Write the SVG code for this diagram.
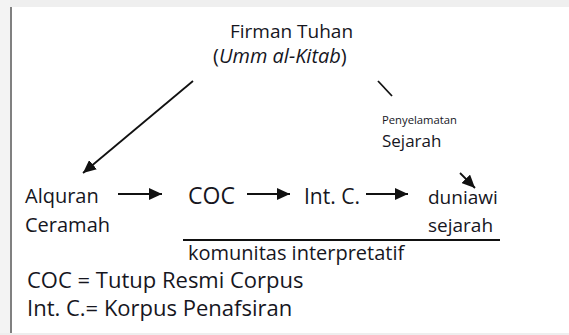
<svg xmlns="http://www.w3.org/2000/svg" width="569" height="335" viewBox="0 0 569 335">
<style>
.t{font-family:"Open Sans","Noto Sans",sans-serif;fill:#16161e}
.c line{stroke:#111;stroke-width:1.8;fill:none}
</style>
<defs>
<marker id="ah" markerUnits="userSpaceOnUse" markerWidth="14" markerHeight="12" refX="13" refY="6" orient="auto">
<path d="M0,0 L13,6 L0,12 Z" fill="#111"/>
</marker>
</defs>
<rect width="569" height="335" fill="#fff"/>
<rect x="0" y="0" width="569" height="7" fill="#efefef"/>
<rect x="0" y="0" width="10" height="335" fill="#f3f3f3"/>
<rect x="0" y="333" width="569" height="2" fill="#eeeeee"/>
<line x1="11" y1="7" x2="11" y2="333" stroke="#808080" stroke-width="2"/>
<g class="c" id="connectors">
<line x1="193" y1="81" x2="83" y2="173" marker-end="url(#ah)"/>
<line x1="378" y1="81" x2="392" y2="96"/>
<line x1="118" y1="194" x2="162" y2="194" marker-end="url(#ah)"/>
<line x1="247" y1="194" x2="290" y2="194" marker-end="url(#ah)"/>
<line x1="366" y1="194" x2="408" y2="194" marker-end="url(#ah)"/>
<line x1="460" y1="173" x2="475" y2="188" marker-end="url(#ah)"/>
<line x1="183" y1="240" x2="500" y2="240"/>
</g>
<g id="firman">
<text class="t" x="230" y="38" font-size="19">Firman Tuhan</text>
<text class="t" x="213" y="63" font-size="20">(<tspan font-style="italic">Umm al-Kitab</tspan>)</text>
</g>
<g id="penyelamatan">
<text class="t" x="382" y="124" font-size="11" textLength="75" lengthAdjust="spacingAndGlyphs">Penyelamatan</text>
<text class="t" x="382" y="147" font-size="17">Sejarah</text>
</g>
<g id="alquran">
<text class="t" x="25" y="203" font-size="20">Alquran</text>
<text class="t" x="25" y="232" font-size="20">Ceramah</text>
</g>
<g id="coc">
<text class="t" x="188" y="204" font-size="23">COC</text>
</g>
<g id="intc">
<text class="t" x="304" y="204" font-size="21">Int. C.</text>
</g>
<g id="duniawi">
<text class="t" x="428" y="204" font-size="19">duniawi</text>
<text class="t" x="428" y="232" font-size="19">sejarah</text>
</g>
<g id="komunitas">
<text class="t" x="188" y="260" font-size="20">komunitas interpretatif</text>
</g>
<g id="legend">
<text class="t" x="27" y="288" font-size="22">COC = Tutup Resmi Corpus</text>
<text class="t" x="27" y="316" font-size="22">Int. C.= Korpus Penafsiran</text>
</g>
</svg>
